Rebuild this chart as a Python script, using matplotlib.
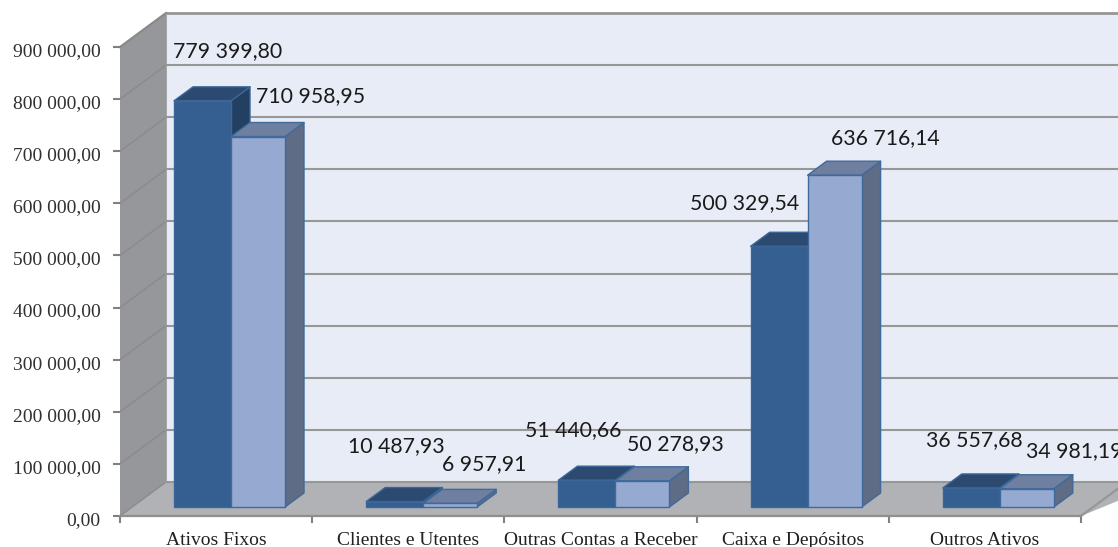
import matplotlib
matplotlib.use("Agg")
import matplotlib.pyplot as plt
from matplotlib.patches import Polygon
from matplotlib.transforms import ScaledTranslation

categories = ["Ativos Fixos", "Clientes e Utentes", "Outras Contas a Receber", "Caixa e Depósitos", "Outros Ativos"]
series_a = [779399.80, 10487.93, 51440.66, 500329.54, 36557.68]
series_b = [710958.95, 6957.91, 50278.93, 636716.14, 34981.19]
label_a = ["779 399,80", "10 487,93", "51 440,66", "500 329,54", "36 557,68"]
label_b = ["710 958,95", "6 957,91", "50 278,93", "636 716,14", "34 981,19"]
yticks = [0, 100000, 200000, 300000, 400000, 500000, 600000, 700000, 800000, 900000]
ytick_labels = ["0,00", "100 000,00", "200 000,00", "300 000,00", "400 000,00",
                "500 000,00", "600 000,00", "700 000,00", "800 000,00", "900 000,00"]

W, H = 1118, 547
fig = plt.figure(figsize=(W / 100, H / 100), dpi=100, facecolor="white")
L, R, B, T = 120, 1081, 516, 47
ax = fig.add_axes([L / W, (H - B) / H, (R - L) / W, (B - T) / H])
ax.set_xlim(0, 5)
ax.set_ylim(0, 900000)
ax.patch.set_visible(False)
for s in ["top", "right"]:
    ax.spines[s].set_visible(False)
ax.spines["left"].set_visible(False)
ax.spines["bottom"].set_color("#8f8f8f")
ax.spines["bottom"].set_linewidth(1.6)
ax.spines["bottom"].set_zorder(3)

px = (R - L) / 5            # pixels per category
py = (B - T) / 900000       # pixels per value unit
DX, DY = 46 / px, 34 / py   # wall depth
dx, dy = 19 / px, 14 / py   # bar depth
base = 9 / py               # bar floor offset


def poly(pts, fc, ec="none", lw=0, z=1):
    ax.add_patch(Polygon(pts, closed=True, facecolor=fc, edgecolor=ec, linewidth=lw,
                         clip_on=False, zorder=z, joinstyle="round"))


right_end = 5 + 37 / px
poly([(DX, DY), (right_end + DX, DY), (right_end + DX, 900000 + DY), (DX, 900000 + DY)], "#e8ecf6")
poly([(0, 0), (DX, DY), (DX, 900000 + DY), (0, 900000)], "#96979b")
poly([(0, 0), (DX, DY), (right_end + DX, DY), (5, 0)], "#b0b2b5")

for v in yticks:
    lw = 1.5 if v < 900000 else 2.0
    ax.plot([DX, 6], [v + DY, v + DY], color="#979797", lw=lw, clip_on=False, zorder=1.5,
            solid_capstyle="butt")
    ax.plot([0, DX], [v, v + DY], color="#8a8a8a", lw=1.0 if v < 900000 else 1.6,
            clip_on=False, zorder=1.5)
ax.plot([DX, DX], [DY, 900000 + DY], color="#979797", lw=1.2, clip_on=False, zorder=1.5)
ax.plot([5, 5 + DX], [0, DY], color="#979797", lw=1.6, clip_on=False, zorder=1.5)

DARK = ("#355f91", "#2c4a70", "#233f61", "#3a6699")
LIGHT = ("#95a9d1", "#6f7f9f", "#5e6c85", "#3f6a9c")


def bar(x0, x1, v, cols, z):
    front, top, side, edge = cols
    y0, y1 = base, base + v
    poly([(x1, y0), (x1 + dx, y0 + dy), (x1 + dx, y1 + dy), (x1, y1)], side, edge, 1.0, z)
    poly([(x0, y1), (x1, y1), (x1 + dx, y1 + dy), (x0 + dx, y1 + dy)], top, edge, 1.0, z)
    poly([(x0, y0), (x1, y0), (x1, y1), (x0, y1)], front, edge, 1.0, z + 0.1)


for i, (a, b) in enumerate(zip(series_a, series_b)):
    x0 = i + 54 / px
    x1 = i + 111 / px
    x2 = i + 165 / px
    bar(x0, x1, a, DARK, 2 + i)
    bar(x1, x2, b, LIGHT, 2.5 + i)

label_left_a = [173, 348, 525, 690, 926]
label_mid_a = [51, 446, 430, 203, 440]
label_left_b = [256, 442, 627, 831, 1026]
label_mid_b = [96, 464, 444, 138, 451]
fnt = dict(family="Lato", fontsize=15.3, color="#1a1a1a", va="center", ha="left", clip_on=False, zorder=20)
for t, x, y in zip(label_a, label_left_a, label_mid_a):
    ax.text((x - L) / px, (B - y) / py, t, **fnt)
for t, x, y in zip(label_b, label_left_b, label_mid_b):
    ax.text((x - L) / px, (B - y) / py, t, **fnt)

ax.set_yticks(yticks)
ax.set_yticklabels(ytick_labels, family="Liberation Serif", fontsize=14.0, color="#303030")
ax.set_xticks(range(6))
ax.set_xticklabels([])
ax.set_xticks([i + 0.5 for i in range(5)], minor=True)
ax.set_xticklabels(categories, minor=True, family="Liberation Serif", fontsize=14.0, color="#202020")
ax.tick_params(axis="y", length=5, width=1.5, color="#808080", pad=9)
ax.tick_params(axis="x", which="major", length=5, width=1.5, color="#808080")
ax.tick_params(axis="x", which="minor", length=0, pad=11.5)

shift = ScaledTranslation(0, -2.5 / 100, fig.dpi_scale_trans)
for lab in ax.get_yticklabels():
    lab.set_transform(lab.get_transform() + shift)

fig.savefig("out.png", dpi=100)
